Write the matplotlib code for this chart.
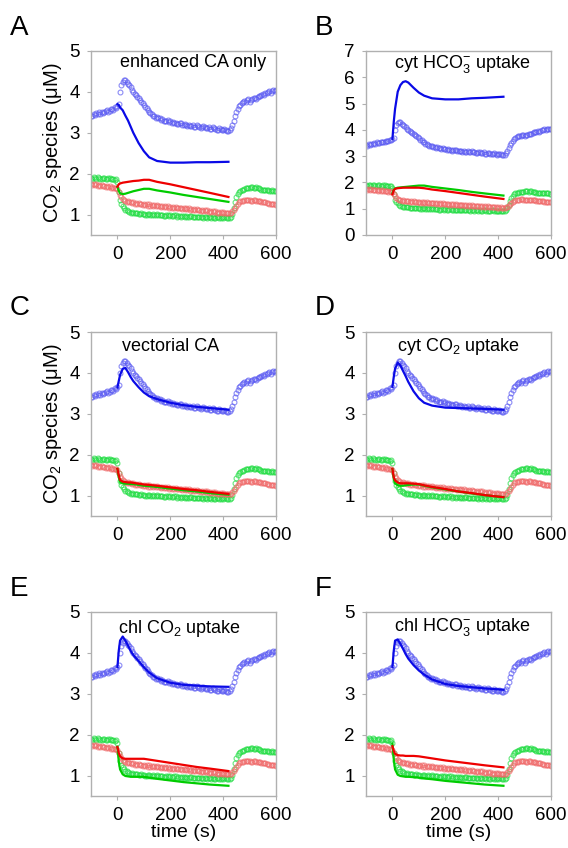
import matplotlib
matplotlib.use("Agg")
import matplotlib.pyplot as plt

plt.rcParams['font.family'] = ['Liberation Sans', 'DejaVu Sans']
plt.rcParams['mathtext.fontset'] = 'custom'
plt.rcParams['mathtext.rm'] = 'Liberation Sans'
plt.rcParams['mathtext.it'] = 'Liberation Sans:italic'

# ---- observed data (same in every panel) ----
obs_t = [-100, -95, -90, -85, -80, -75, -70, -65, -60, -55,
         -50, -45, -40, -35, -30, -25, -20, -15, -10, -5,
         0, 5, 10, 15, 20, 25, 30, 35, 40, 45,
         50, 55, 60, 65, 70, 75, 80, 85, 90, 95,
         100, 105, 110, 115, 120, 125, 130, 135, 140, 145,
         150, 155, 160, 165, 170, 175, 180, 185, 190, 195,
         200, 205, 210, 215, 220, 225, 230, 235, 240, 245,
         250, 255, 260, 265, 270, 275, 280, 285, 290, 295,
         300, 305, 310, 315, 320, 325, 330, 335, 340, 345,
         350, 355, 360, 365, 370, 375, 380, 385, 390, 395,
         400, 405, 410, 415, 420, 425, 430, 435, 440, 445,
         450, 455, 460, 465, 470, 475, 480, 485, 490, 495,
         500, 505, 510, 515, 520, 525, 530, 535, 540, 545,
         550, 555, 560, 565, 570, 575, 580, 585, 590, 595,
         600]
obs_blue = [3.42, 3.40, 3.45, 3.44, 3.48, 3.46, 3.50, 3.47, 3.52, 3.49,
            3.50, 3.53, 3.55, 3.52, 3.53, 3.57, 3.58, 3.56, 3.62, 3.60,
            3.65, 3.70, 4.00, 4.18, 4.25, 4.28, 4.28, 4.24, 4.20, 4.16,
            4.12, 4.05, 4.00, 3.95, 3.92, 3.88, 3.85, 3.80, 3.75, 3.72,
            3.68, 3.63, 3.60, 3.55, 3.52, 3.48, 3.45, 3.42, 3.40, 3.37,
            3.38, 3.35, 3.35, 3.32, 3.33, 3.30, 3.30, 3.28, 3.32, 3.27,
            3.28, 3.25, 3.27, 3.24, 3.25, 3.21, 3.22, 3.24, 3.23, 3.19,
            3.20, 3.21, 3.18, 3.17, 3.20, 3.16, 3.17, 3.19, 3.15, 3.14,
            3.18, 3.16, 3.15, 3.12, 3.13, 3.16, 3.15, 3.11, 3.12, 3.14,
            3.10, 3.09, 3.13, 3.11, 3.10, 3.07, 3.08, 3.11, 3.10, 3.06,
            3.07, 3.09, 3.08, 3.04, 3.05, 3.06, 3.12, 3.20, 3.30, 3.42,
            3.50, 3.58, 3.65, 3.68, 3.72, 3.75, 3.78, 3.76, 3.80, 3.82,
            3.76, 3.80, 3.82, 3.84, 3.85, 3.83, 3.88, 3.90, 3.90, 3.92,
            3.95, 3.93, 3.97, 3.98, 4.00, 4.02, 3.98, 4.03, 4.05, 4.03,
            4.05]
obs_green = [1.90, 1.88, 1.92, 1.89, 1.88, 1.91, 1.90, 1.86, 1.87, 1.90,
             1.90, 1.87, 1.86, 1.89, 1.90, 1.88, 1.88, 1.86, 1.85, 1.88,
             1.80, 1.55, 1.35, 1.25, 1.20, 1.15, 1.12, 1.10, 1.08, 1.06,
             1.05, 1.06, 1.05, 1.03, 1.03, 1.04, 1.02, 1.01, 1.04, 1.02,
             1.02, 1.00, 1.00, 1.01, 1.02, 0.99, 1.00, 1.01, 0.99, 0.98,
             1.01, 0.99, 0.98, 1.00, 1.00, 0.97, 0.97, 0.99, 0.99, 0.96,
             0.98, 0.97, 0.96, 0.98, 0.98, 0.95, 0.97, 0.96, 0.95, 0.97,
             0.97, 0.95, 0.96, 0.94, 0.94, 0.96, 0.96, 0.94, 0.95, 0.93,
             0.95, 0.94, 0.93, 0.95, 0.95, 0.92, 0.94, 0.93, 0.92, 0.94,
             0.94, 0.92, 0.93, 0.91, 0.92, 0.94, 0.94, 0.91, 0.92, 0.93,
             0.91, 0.93, 0.93, 0.91, 0.92, 0.91, 0.95, 1.02, 1.15, 1.30,
             1.42, 1.50, 1.55, 1.58, 1.60, 1.61, 1.62, 1.64, 1.65, 1.64,
             1.66, 1.67, 1.67, 1.65, 1.66, 1.67, 1.65, 1.64, 1.62, 1.61,
             1.60, 1.61, 1.61, 1.59, 1.59, 1.58, 1.58, 1.59, 1.58, 1.57,
             1.57]
obs_red = [1.75, 1.73, 1.75, 1.72, 1.74, 1.71, 1.73, 1.70, 1.72, 1.69,
           1.71, 1.68, 1.70, 1.67, 1.69, 1.66, 1.68, 1.65, 1.66, 1.64,
           1.62, 1.56, 1.48, 1.42, 1.38, 1.35, 1.34, 1.31, 1.33, 1.30,
           1.31, 1.28, 1.30, 1.27, 1.29, 1.26, 1.28, 1.25, 1.27, 1.24,
           1.26, 1.23, 1.25, 1.22, 1.25, 1.22, 1.24, 1.21, 1.23, 1.20,
           1.23, 1.20, 1.22, 1.19, 1.21, 1.19, 1.21, 1.18, 1.20, 1.17,
           1.19, 1.17, 1.19, 1.16, 1.18, 1.15, 1.17, 1.15, 1.17, 1.14,
           1.16, 1.13, 1.15, 1.13, 1.15, 1.12, 1.14, 1.11, 1.13, 1.11,
           1.13, 1.10, 1.12, 1.09, 1.11, 1.09, 1.11, 1.08, 1.10, 1.07,
           1.09, 1.07, 1.09, 1.06, 1.08, 1.05, 1.07, 1.05, 1.07, 1.04,
           1.06, 1.03, 1.05, 1.03, 1.04, 1.04, 1.05, 1.08, 1.12, 1.17,
           1.22, 1.26, 1.30, 1.32, 1.33, 1.34, 1.35, 1.36, 1.36, 1.35,
           1.35, 1.34, 1.34, 1.35, 1.35, 1.34, 1.33, 1.32, 1.32, 1.31,
           1.31, 1.30, 1.30, 1.29, 1.28, 1.27, 1.27, 1.26, 1.25, 1.25,
           1.24]

# ---- model curves ----
mod_t = [0, 5, 10, 20, 30, 40, 50, 60, 80, 100, 120, 150, 200, 250, 300, 350, 420]

A_blue = [3.70, 3.68, 3.62, 3.55, 3.42, 3.30, 3.15, 3.00, 2.75, 2.55, 2.40, 2.31, 2.27, 2.27, 2.28, 2.28, 2.29]
A_red = [1.68, 1.74, 1.76, 1.78, 1.79, 1.80, 1.81, 1.82, 1.83, 1.85, 1.85, 1.80, 1.74, 1.67, 1.60, 1.53, 1.43]
A_green = [1.68, 1.58, 1.52, 1.50, 1.51, 1.53, 1.55, 1.57, 1.60, 1.63, 1.63, 1.59, 1.54, 1.48, 1.43, 1.38, 1.31]

B_blue = [3.65, 4.30, 4.80, 5.45, 5.70, 5.82, 5.85, 5.80, 5.60, 5.42, 5.30, 5.20, 5.16, 5.16, 5.20, 5.22, 5.26]
B_red = [1.55, 1.70, 1.76, 1.78, 1.79, 1.80, 1.80, 1.80, 1.80, 1.80, 1.78, 1.73, 1.67, 1.60, 1.53, 1.46, 1.37]
B_green = [1.60, 1.72, 1.77, 1.80, 1.81, 1.82, 1.83, 1.84, 1.86, 1.88, 1.88, 1.83, 1.77, 1.71, 1.64, 1.58, 1.50]

C_blue = [3.64, 3.80, 3.95, 4.10, 4.12, 4.02, 3.90, 3.80, 3.65, 3.52, 3.43, 3.36, 3.27, 3.21, 3.17, 3.14, 3.10]
C_red = [1.65, 1.50, 1.38, 1.34, 1.33, 1.32, 1.32, 1.31, 1.29, 1.27, 1.26, 1.24, 1.20, 1.16, 1.13, 1.09, 1.04]
C_green = [1.65, 1.45, 1.33, 1.30, 1.29, 1.29, 1.28, 1.28, 1.26, 1.24, 1.23, 1.21, 1.17, 1.13, 1.10, 1.06, 1.02]

D_blue = [3.66, 3.90, 4.10, 4.25, 4.18, 4.05, 3.92, 3.78, 3.55, 3.38, 3.27, 3.20, 3.15, 3.14, 3.13, 3.12, 3.10]
D_red = [1.65, 1.45, 1.37, 1.32, 1.30, 1.30, 1.30, 1.30, 1.29, 1.28, 1.25, 1.21, 1.16, 1.10, 1.06, 1.01, 0.96]
D_green = [1.65, 1.40, 1.30, 1.25, 1.24, 1.24, 1.25, 1.26, 1.27, 1.27, 1.24, 1.20, 1.15, 1.10, 1.05, 1.01, 0.96]

E_blue = [3.65, 4.05, 4.30, 4.40, 4.30, 4.18, 4.05, 3.95, 3.80, 3.65, 3.52, 3.38, 3.27, 3.22, 3.20, 3.18, 3.17]
E_red = [1.70, 1.55, 1.47, 1.42, 1.41, 1.41, 1.41, 1.41, 1.41, 1.41, 1.39, 1.36, 1.31, 1.26, 1.21, 1.17, 1.11]
E_green = [1.70, 1.35, 1.15, 1.03, 0.99, 0.98, 0.97, 0.97, 0.97, 0.97, 0.95, 0.92, 0.88, 0.84, 0.81, 0.78, 0.75]

F_blue = [3.65, 4.05, 4.30, 4.33, 4.22, 4.10, 3.97, 3.86, 3.70, 3.57, 3.47, 3.35, 3.24, 3.19, 3.16, 3.13, 3.10]
F_red = [1.72, 1.60, 1.53, 1.50, 1.49, 1.49, 1.48, 1.48, 1.48, 1.47, 1.45, 1.42, 1.37, 1.33, 1.29, 1.25, 1.20]
F_green = [1.78, 1.40, 1.15, 1.02, 0.99, 0.98, 0.97, 0.97, 0.96, 0.95, 0.93, 0.91, 0.87, 0.84, 0.81, 0.78, 0.75]

panel_letters = ['A', 'B', 'C', 'D', 'E', 'F']
panel_titles = ['enhanced CA only', 'cyt HCO$_3^{-}$ uptake', 'vectorial CA',
                'cyt CO$_2$ uptake', 'chl CO$_2$ uptake', 'chl HCO$_3^{-}$ uptake']
panel_models = [(A_blue, A_red, A_green), (B_blue, B_red, B_green),
                (C_blue, C_red, C_green), (D_blue, D_red, D_green),
                (E_blue, E_red, E_green), (F_blue, F_red, F_green)]
x_ticks = [0, 200, 400, 600]
y_ticks_std = [1, 2, 3, 4, 5]
y_ticks_B = [0, 1, 2, 3, 4, 5, 6, 7]

# ---- layout ----
W, H = 568, 848
fig = plt.figure(figsize=(W / 100, H / 100), dpi=100)

col_left = [91, 366]
row_top = [51, 332, 612]
ax_w, ax_h = 185, 184
title_pos = [(0.55, 0.935), (0.52, 0.93), (0.43, 0.92), (0.50, 0.92), (0.48, 0.91), (0.52, 0.92)]

obs_style = dict(linestyle='none', marker='o', markersize=3.5, markerfacecolor='none',
                 markeredgewidth=0.8, alpha=0.7)

for i in range(6):
    r, c = divmod(i, 2)
    left = col_left[c] / W
    bottom = 1 - (row_top[r] + ax_h) / H
    ax = fig.add_axes([left, bottom, ax_w / W, ax_h / H])

    ax.plot(obs_t, obs_blue, markeredgecolor='#5a5af2', **obs_style)
    ax.plot(obs_t, obs_green, markeredgecolor='#22dd44', **obs_style)
    ax.plot(obs_t, obs_red, markeredgecolor='#f06a6a', **obs_style)

    mb, mr, mg = panel_models[i]
    ax.plot(mod_t, mb, color='#0a0ae6', lw=1.6)
    ax.plot(mod_t, mg, color='#00cc00', lw=1.6)
    ax.plot(mod_t, mr, color='#ee0000', lw=1.6)

    ax.set_xlim(-100, 600)
    ax.set_xticks(x_ticks)
    if i == 1:
        ax.set_ylim(0, 7)
        ax.set_yticks(y_ticks_B)
    else:
        ax.set_ylim(0.5, 5)
        ax.set_yticks(y_ticks_std)

    for sp in ax.spines.values():
        sp.set_color('#b0b0b0')
        sp.set_linewidth(1.0)
    ax.tick_params(direction='out', length=3, width=0.8, color='#b0b0b0',
                   labelsize=13.5, pad=5, labelcolor='black')

    tx, ty = title_pos[i]
    ax.text(tx, ty, panel_titles[i], transform=ax.transAxes, ha='center', va='center',
            fontsize=13)

    if i in (0, 2):
        ax.set_ylabel('CO$_2$ species (μM)', fontsize=14.5, labelpad=4)
    if r == 2:
        ax.set_xlabel('time (s)', fontsize=14, labelpad=0)

    lx = [10, 315][c]
    ly = [35, 315, 596][r]
    fig.text(lx / W, 1 - ly / H, panel_letters[i], fontsize=20, ha='left', va='baseline')

fig.savefig('out.png', dpi=100)
